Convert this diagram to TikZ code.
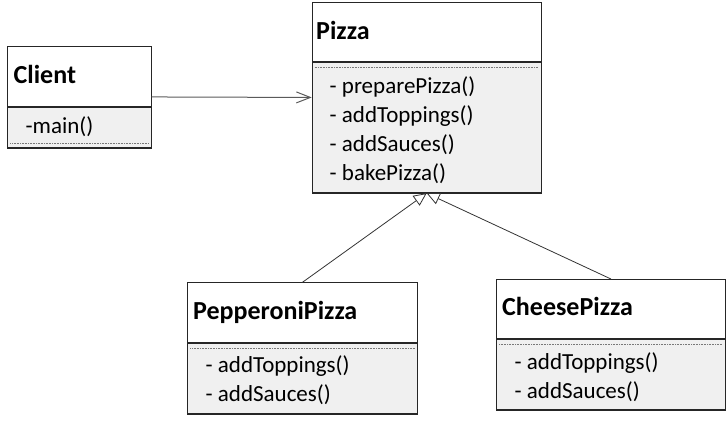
\documentclass[tikz,border=0pt]{standalone}
\usepackage{fontspec}
\setmainfont{Carlito}
\usetikzlibrary{arrows.meta}
\definecolor{bodygray}{RGB}{240,240,240}
\definecolor{dotgray}{RGB}{120,120,120}
\definecolor{assocgray}{RGB}{90,90,90}
\begin{document}
\begin{tikzpicture}[x=1pt,y=-1pt,
  frame/.style={draw=black!85, line width=0.9pt, inner sep=0pt, anchor=north west},
  headbox/.style={draw=black!85, line width=0.9pt, fill=white, anchor=north west, inner sep=0pt},
  bodybox/.style={draw=black!85, line width=0.9pt, fill=bodygray, anchor=north west, inner sep=0pt},
  title/.style={anchor=base west, inner sep=0pt, font=\fontsize{26}{30}\selectfont\bfseries},
  meth/.style={anchor=base west, inner sep=0pt, font=\fontsize{23}{28}\selectfont},
  dotline/.style={draw=dotgray, line width=0.7pt, dash pattern=on 0.8pt off 0.8pt},
  assoc/.style={draw=assocgray, line width=1pt, -{Straight Barb[length=14pt,width=11pt]}},
  gen/.style={draw=black!80, line width=0.8pt, -{Triangle[open, length=13pt, width=12pt, fill=white]}}
]
\useasboundingbox (0,0) rectangle (727,420);

% Client
\node[headbox, minimum width=143.4pt, minimum height=60.6pt] (clienthead) at (7.3,45.7) {};
\node[bodybox, minimum width=143.4pt, minimum height=41pt] (clientbody) at (clienthead.south west) {};
\draw[dotline] ([xshift=3pt,yshift=5.6pt]clientbody.south west) -- ([xshift=-3pt,yshift=5.6pt]clientbody.south east);
\node[title] (ct) at (13.5,83.3) {Client};
\node[meth] (cm1) at (25.5,133.4) {-main()};
\node[frame, minimum width=143.4pt, minimum height=101.6pt] (client) at (7.3,45.7) {};

% Pizza
\node[headbox, minimum width=229pt, minimum height=59.6pt] (pizzahead) at (311.7,1.7) {};
\node[bodybox, minimum width=229pt, minimum height=131pt] (pizzabody) at (pizzahead.south west) {};
\draw[dotline] ([xshift=3pt,yshift=-5.4pt]pizzabody.north west) -- ([xshift=-3pt,yshift=-5.4pt]pizzabody.north east);
\node[title] (pt) at (316,39.3) {Pizza};
\node[meth] (pm1) at (329.5,93.3) {- preparePizza()};
\node[meth] (pm2) at (329.5,122.4) {- addToppings()};
\node[meth] (pm3) at (329.5,151.6) {- addSauces()};
\node[meth] (pm4) at (329.5,180.7) {- bakePizza()};
\node[frame, minimum width=229pt, minimum height=190.6pt] (pizza) at (311.7,1.7) {};

% PepperoniPizza
\node[headbox, minimum width=229.4pt, minimum height=59.4pt] (pephead) at (187.3,282.3) {};
\node[bodybox, minimum width=229.4pt, minimum height=71.6pt] (pepbody) at (pephead.south west) {};
\draw[dotline] ([xshift=3pt,yshift=-5.6pt]pepbody.north west) -- ([xshift=-3pt,yshift=-5.6pt]pepbody.north east);
\node[title] (ppt) at (193,319.5) {PepperoniPizza};
\node[meth] (ppm1) at (205.5,372.7) {- addToppings()};
\node[meth] (ppm2) at (205.5,401.7) {- addSauces()};
\node[frame, minimum width=229.4pt, minimum height=131pt] (pep) at (187.3,282.3) {};

% CheesePizza
\node[headbox, minimum width=229pt, minimum height=59.3pt] (cheesehead) at (496,279) {};
\node[bodybox, minimum width=229pt, minimum height=71pt] (cheesebody) at (cheesehead.south west) {};
\draw[dotline] ([xshift=3pt,yshift=-5.6pt]cheesebody.north west) -- ([xshift=-3pt,yshift=-5.6pt]cheesebody.north east);
\node[title] (cht) at (502,315.5) {CheesePizza};
\node[meth] (chm1) at (514.5,369.3) {- addToppings()};
\node[meth] (chm2) at (514.5,398.3) {- addSauces()};
\node[frame, minimum width=229pt, minimum height=130.3pt] (cheese) at (496,279) {};

% connectors
\draw[assoc] (client.east) -- (pizza.west);
\draw[gen] (pep.north) -- (pizza.south);
\draw[gen] (cheese.north) -- (pizza.south);
\end{tikzpicture}
\end{document}
